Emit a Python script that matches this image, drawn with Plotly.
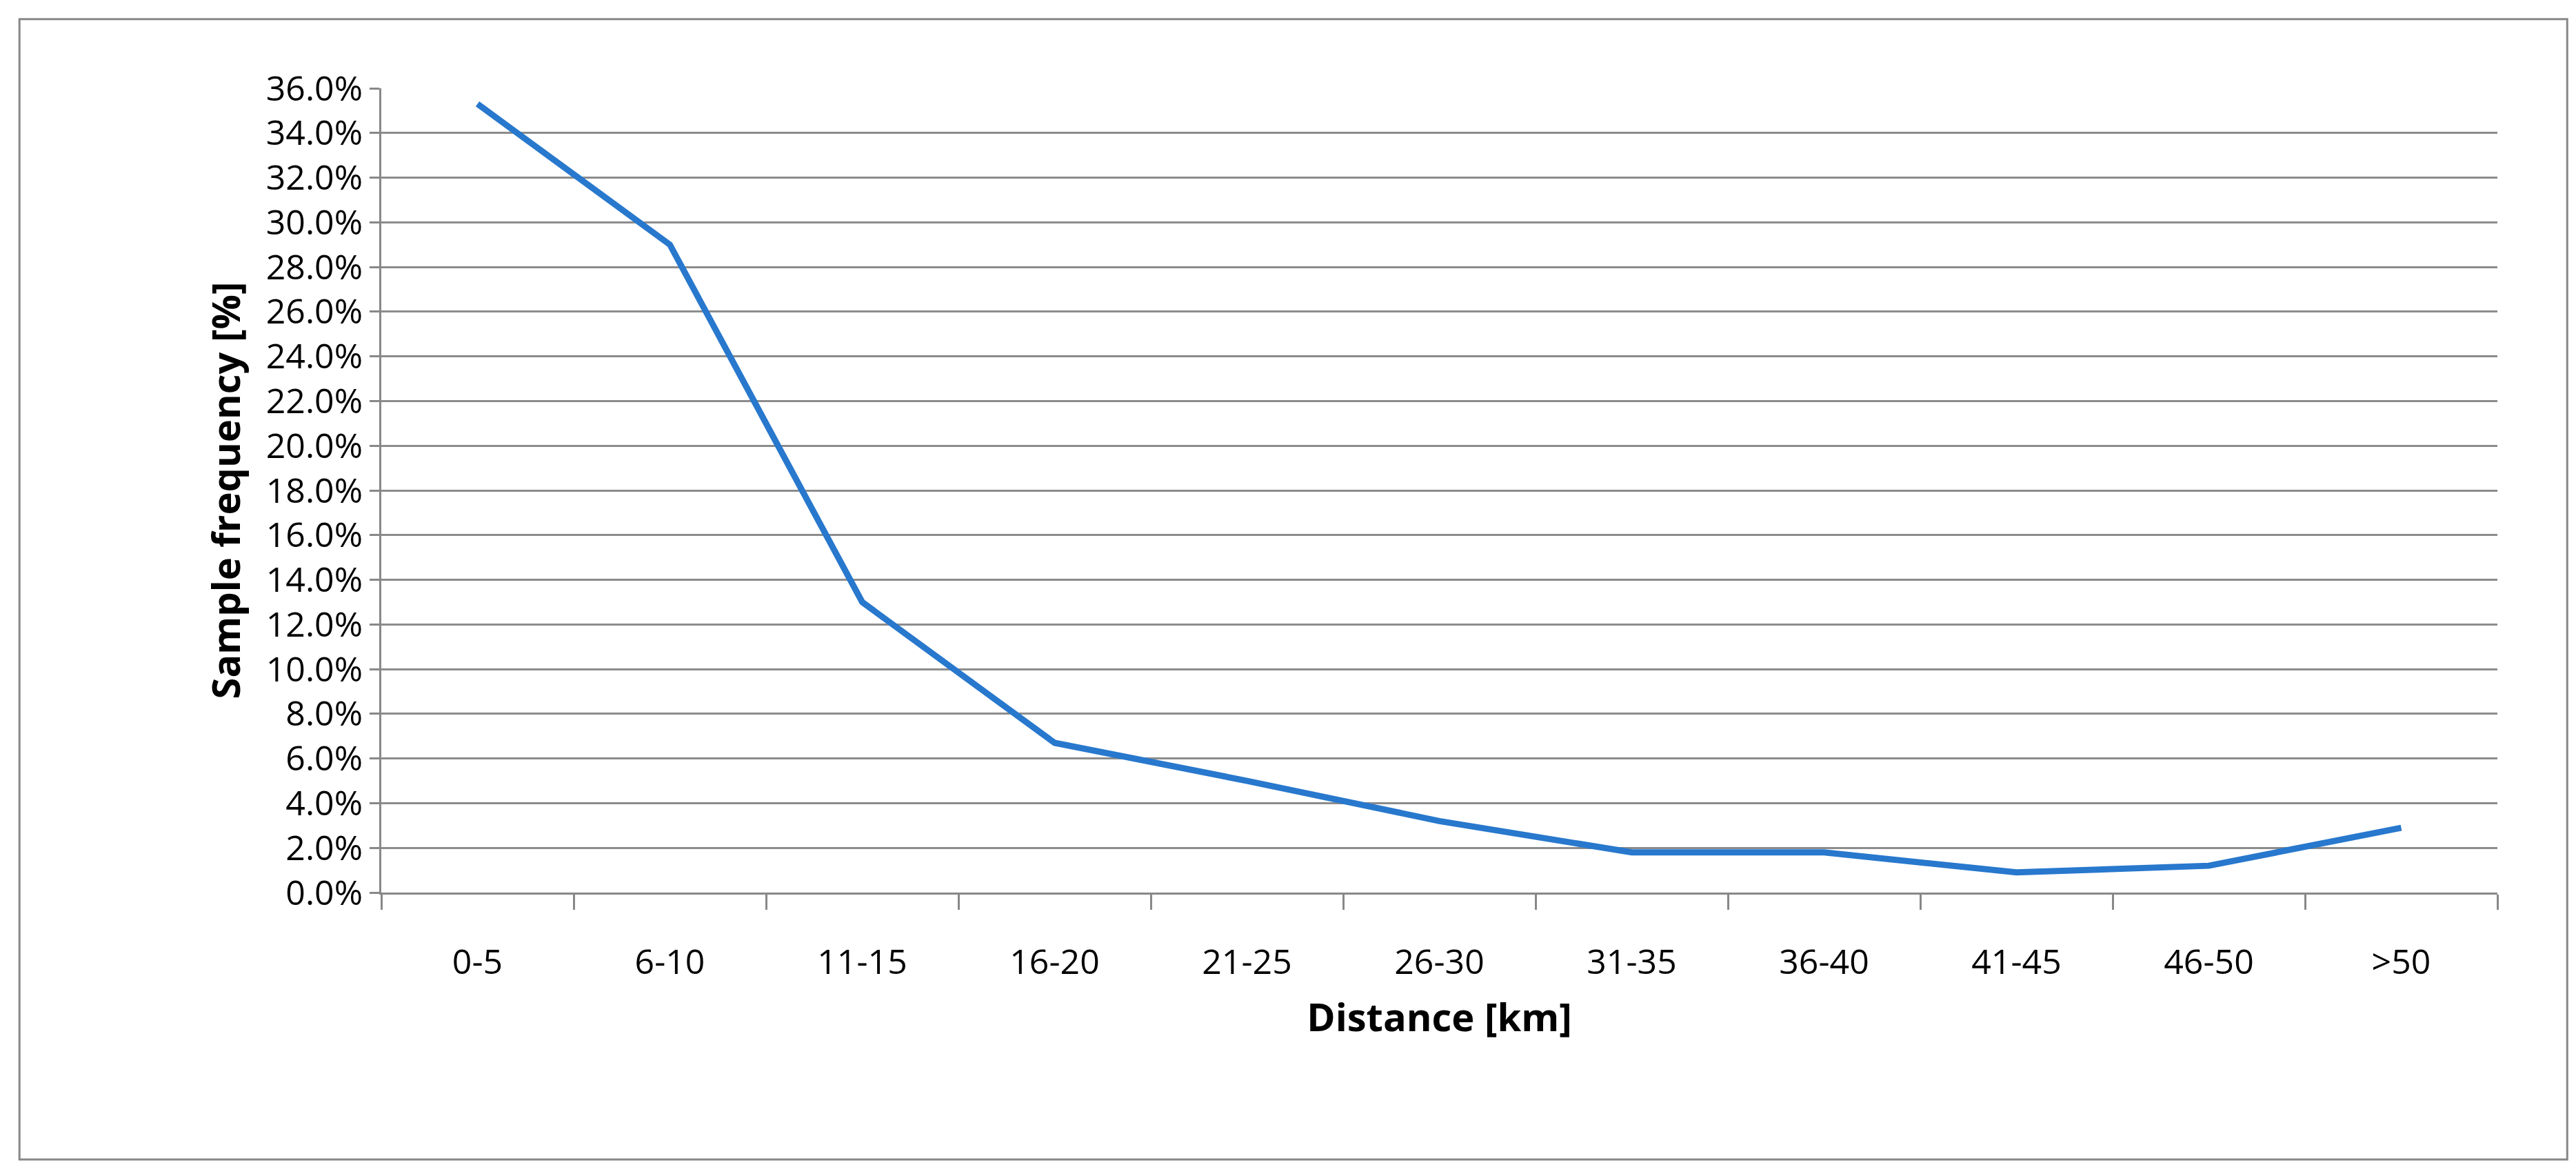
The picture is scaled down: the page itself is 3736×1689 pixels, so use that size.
import plotly.graph_objects as go

categories = ["0-5","6-10","11-15","16-20","21-25","26-30","31-35","36-40","41-45","46-50",">50"]
values = [35.3, 29.0, 13.0, 6.7, 5.0, 3.2, 1.8, 1.8, 0.9, 1.2, 2.9]
y_ticks = [i*2 for i in range(19)]

fig = go.Figure(go.Scatter(x=categories, y=[v/100 for v in values], mode="lines",
                           line=dict(color="#2878CD", width=9)))
font = "Open Sans"
fig.update_layout(
    width=3736, height=1689, paper_bgcolor="white", plot_bgcolor="white",
    margin=dict(l=545, r=122, t=120, b=403), showlegend=False,
    font=dict(family=font, size=50, color="black"),
    shapes=[dict(type="rect", xref="paper", yref="paper", x0=-0.171, x1=1.033, y0=-0.332, y1=1.086,
                 line=dict(color="#888888", width=3))],
)
fig.update_xaxes(title=dict(text="<b>Distance [km]</b>", font=dict(size=56), standoff=30),
                 range=[-0.5, 10.5],
                 tickson="boundaries", ticks="outside", ticklen=22, tickcolor="#888888", tickwidth=3,
                 showline=True, linecolor="#888888", linewidth=3, showgrid=False,
                 ticklabelstandoff=55)
fig.update_yaxes(title=dict(text="<b>Sample frequency [%]</b>", font=dict(size=56), standoff=20),
                 range=[0, 0.36], tickvals=[t/100 for t in y_ticks], tickformat=".1%",
                 ticks="outside", ticklen=14, tickcolor="#888888", tickwidth=3,
                 showline=True, linecolor="#888888", linewidth=3,
                 showgrid=True, gridcolor="#8c8c8c", gridwidth=3, zeroline=False)
fig.write_html("out.html")
